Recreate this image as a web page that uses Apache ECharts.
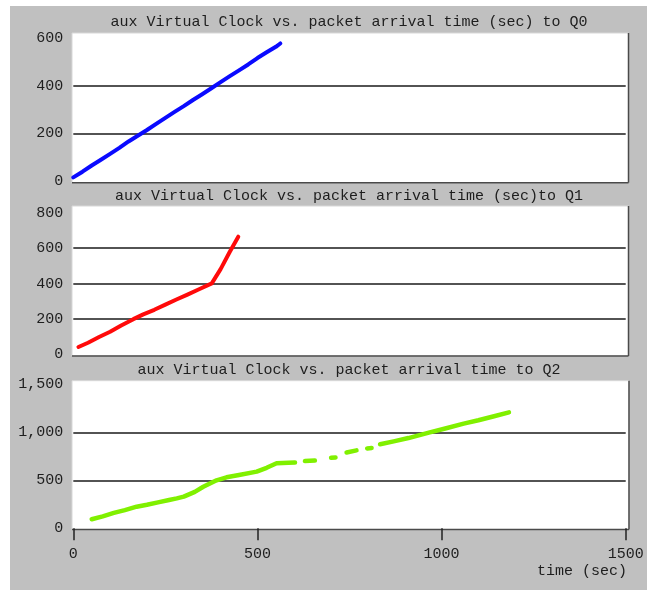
<!DOCTYPE html>
<html>
<head>
<meta charset="utf-8">
<script src="https://cdn.jsdelivr.net/npm/echarts@6/dist/echarts.min.js"></script>
<style>
html,body{margin:0;padding:0;background:#fff;}
#chart{width:647px;height:590px;}
</style>
</head>
<body>
<div id="chart"></div>
<script>
// ---- data ----
const titles = [
  'aux Virtual Clock vs. packet arrival time (sec) to Q0',
  'aux Virtual Clock vs. packet arrival time (sec)to Q1',
  'aux Virtual Clock vs. packet arrival time to Q2'
];
const xAxisName = 'time (sec)';
const xTicks = [0, 500, 1000, 1500];
const xTickLabels = ['0', '500', '1000', '1500'];
const yTicks0 = [0, 200, 400, 600];
const yTicks1 = [0, 200, 400, 600, 800];
const yTicks2 = [0, 500, 1000, 1500];
const yTickLabels2 = ['0', '500', '1,000', '1,500'];

const q0Time  = [0, 25, 50, 75, 100, 125, 150, 175, 200, 225, 250, 275, 300, 325, 350, 375, 400, 425, 450, 475, 500, 525, 550, 562];
const q0Clock = [15, 39, 65, 89, 114, 139, 166, 190, 214, 240, 265, 290, 314, 340, 364, 389, 415, 440, 464, 489, 516, 540, 563, 577];

const q1Time  = [14, 40, 70, 100, 130, 163, 190, 220, 250, 280, 310, 340, 376, 400, 425, 448];
const q1Clock = [42, 66, 98, 128, 163, 199, 226, 252, 281, 310, 338, 367, 401, 482, 580, 665];

const q2Time  = [50, 80, 110, 140, 172, 200, 230, 260, 281, 300, 330, 353, 389, 416, 450, 498, 525, 552, 584, 602, 615, 629, 656, 680, 700, 712, 727, 742, 769, 784, 798, 810, 822, 833, 870, 910, 968, 1010, 1060, 1100, 1140, 1183];
const q2Clock = [94, 125, 160, 190, 225, 245, 270, 295, 312, 330, 380, 433, 500, 531, 555, 590, 630, 677, 683, 685, null, 700, 706, null, 734, 738, null, 790, 812, null, 832, 836, null, 875, 905, 940, 1000, 1040, 1090, 1125, 1165, 1208];

// ---- build ----
function pairs(t, v) { return t.map((x, i) => [x, v[i] === null ? '-' : v[i]]); }

const FONT = '"Liberation Mono", "DejaVu Sans Mono", monospace';
const TXT = '#1e1e1e';
const BORDER = '#4a4a4a';

const gridDefs = [
  { top: 38, height: 143 },
  { top: 212.8, height: 141.6 },
  { top: 384.3, height: 144 }
];
const panels = [
  { x: 72, y: 33, r: 628.5, b: 182.7, ty: 22 },
  { x: 72, y: 206, r: 628.5, b: 356, ty: 196.5 },
  { x: 72, y: 380.7, r: 629, b: 529.6, ty: 370 }
];

const graphics = [
  { type: 'rect', z: -20, shape: { x: 10, y: 6, width: 637, height: 584 }, style: { fill: '#c0c0c0' } }
];
panels.forEach((p, i) => {
  graphics.push({ type: 'rect', z: -10, shape: { x: p.x, y: p.y, width: p.r - p.x, height: p.b - p.y }, style: { fill: '#ffffff', stroke: '#d8d8d8', lineWidth: 1 } });
  graphics.push({ type: 'line', z: -5, shape: { x1: p.r, y1: p.y, x2: p.r, y2: p.b }, style: { stroke: BORDER, lineWidth: 1.5 } });
  graphics.push({ type: 'line', z: -5, shape: { x1: p.x, y1: p.b, x2: p.r, y2: p.b }, style: { stroke: BORDER, lineWidth: 1.5 } });
  graphics.push({ type: 'text', z: 10, x: 349, y: p.ty, style: { text: titles[i], font: '15px ' + FONT, fill: TXT, textAlign: 'center', textVerticalAlign: 'middle' } });
});
graphics.push({ type: 'text', z: 10, x: 627, y: 571, style: { text: xAxisName, font: '15px ' + FONT, fill: TXT, textAlign: 'right', textVerticalAlign: 'middle' } });

const yMax = [yTicks0[yTicks0.length - 1], yTicks1[yTicks1.length - 1], yTicks2[yTicks2.length - 1]];
const yInt = [yTicks0[1] - yTicks0[0], yTicks1[1] - yTicks1[0], yTicks2[1] - yTicks2[0]];

const option = {
  animation: false,
  backgroundColor: '#ffffff',
  graphic: { elements: graphics },
  grid: gridDefs.map(g => ({ left: 73.3, right: 21.3, top: g.top, height: g.height, show: false, containLabel: false, outerBoundsMode: 'none' })),
  xAxis: [0, 1, 2].map(i => ({
    type: 'value', gridIndex: i, min: xTicks[0], max: xTicks[xTicks.length - 1], interval: xTicks[1] - xTicks[0],
    show: i === 2,
    offset: 1.5,
    axisLine: { show: false },
    axisTick: { show: true, length: 12, lineStyle: { color: '#222', width: 1.5 } },
    axisLabel: {
      show: true, margin: 17, color: TXT, fontFamily: FONT, fontSize: 15,
      formatter: function (v) { const k = xTicks.indexOf(v); return k >= 0 ? xTickLabels[k] : ''; }
    },
    splitLine: { show: false }
  })),
  yAxis: [0, 1, 2].map(i => ({
    type: 'value', gridIndex: i, min: 0, max: yMax[i], interval: yInt[i],
    axisLine: { show: false },
    axisTick: { show: false },
    axisLabel: {
      margin: 10, color: TXT, fontFamily: FONT, fontSize: 15, padding: [0, 0, 8, 0],
      formatter: function (v) {
        if (i === 2) { const k = yTicks2.indexOf(v); return k >= 0 ? yTickLabels2[k] : ''; }
        return String(v);
      }
    },
    splitLine: { show: true, showMinLine: false, showMaxLine: false, lineStyle: { color: '#1a1a1a', width: 1.5 } }
  })),
  series: [
    { type: 'line', xAxisIndex: 0, yAxisIndex: 0, data: pairs(q0Time, q0Clock), showSymbol: false,
      lineStyle: { color: '#0a0aff', width: 4, cap: 'round', join: 'round' } },
    { type: 'line', xAxisIndex: 1, yAxisIndex: 1, data: pairs(q1Time, q1Clock), showSymbol: false,
      lineStyle: { color: '#ff0a0a', width: 4, cap: 'round', join: 'round' } },
    { type: 'line', xAxisIndex: 2, yAxisIndex: 2, data: pairs(q2Time, q2Clock), showSymbol: false, connectNulls: false,
      lineStyle: { color: '#80f000', width: 4.5, cap: 'round', join: 'round' } }
  ]
};

const chart = echarts.init(document.getElementById('chart'), null, { renderer: 'canvas' });
chart.setOption(option);
</script>
</body>
</html>
